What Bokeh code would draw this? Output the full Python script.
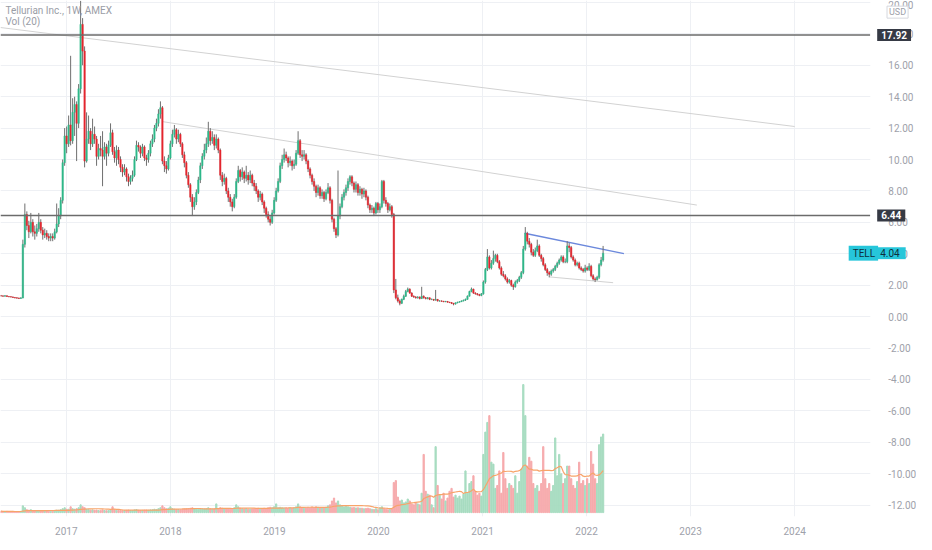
import numpy as np
import pandas as pd
from bokeh.plotting import figure
from bokeh.models import Range1d, FixedTicker, NumeralTickFormatter, Label, ColumnDataSource, BoxAnnotation
from bokeh.embed import file_html
from bokeh.resources import INLINE

# ---------------- data (weekly candles, TELL, AMEX) ----------------
start_date = "2016-05-16"
first_open = 1.33

close = [
    1.32, 1.30, 1.33, 1.28, 1.27, 1.25, 1.22, 1.20, 1.18, 1.16, 1.19,
    4.6, 6.5, 5.8, 5.4, 6.0, 5.4, 5.3, 5.6, 6.0, 5.5,
    5.2, 5.3, 5.1, 5.0, 5.1, 5.0, 5.4, 5.9, 6.4, 7.4,
    9.8, 11.5, 11.0, 12.2, 11.2, 13.0, 13.5, 12.3, 14.5, 18.6,
    16.9, 9.9, 11.3, 11.8, 11.0, 11.6, 11.3, 10.2, 10.7, 10.6,
    10.2, 10.8, 10.4, 10.9, 11.7, 10.5, 10.1, 10.6, 10.0, 9.5,
    9.2, 9.4, 8.9, 8.6, 8.8, 9.0, 10.0, 10.9, 10.8, 10.4,
    10.8, 10.1, 10.0, 10.4, 11.0, 11.3, 12.0, 12.3, 12.9, 13.3,
    9.9, 9.6, 9.4, 10.1, 11.0, 11.6, 11.9, 11.3, 11.6, 11.0,
    10.3, 9.8, 9.0, 8.4, 7.6, 7.0, 7.3, 7.9, 8.7, 9.6,
    10.2, 10.6, 11.0, 11.8, 11.2, 11.4, 10.9, 11.3, 10.6, 9.0,
    8.6, 8.8, 8.0, 7.6, 7.3, 7.0, 7.6, 8.6, 9.3, 8.9,
    9.2, 8.8, 9.0, 8.7, 9.0, 8.5, 8.3, 8.0, 7.6, 7.8,
    7.3, 6.9, 6.5, 6.2, 6.0, 6.6, 7.4, 8.0, 8.6, 9.6,
    10.0, 10.3, 10.1, 9.8, 9.9, 9.6, 9.7, 10.4, 11.2, 10.3,
    10.2, 10.3, 9.9, 9.4, 9.0, 8.6, 8.3, 7.9, 8.2, 7.7,
    7.9, 7.5, 7.9, 8.2, 7.4, 6.2, 5.6, 5.2, 6.4, 7.0,
    7.6, 7.9, 8.2, 8.6, 8.9, 8.5, 8.1, 8.4, 7.9, 8.1,
    7.8, 8.0, 7.6, 7.1, 6.8, 6.9, 6.6, 7.2, 6.8, 7.0,
    8.6, 7.4, 7.2, 6.8, 7.0, 6.5, 1.7, 1.2, 1.0, 0.85,
    1.1, 1.3, 1.6, 1.75, 1.5, 1.3, 1.25, 1.2, 1.25, 1.15,
    1.3, 1.2, 1.15, 1.2, 1.1, 1.1, 1.05, 1.1, 1.0, 1.0,
    0.98, 0.95, 0.97, 0.92, 0.90, 0.85, 0.80, 0.88, 0.92, 0.95,
    1.0, 1.05, 1.1, 1.3, 1.6, 1.75, 1.5, 1.45, 1.4, 1.35,
    1.45, 2.2, 3.0, 3.8, 3.1, 3.4, 3.7, 3.9, 3.5, 3.1,
    2.7, 2.6, 2.4, 2.2, 2.3, 2.0, 1.9, 2.2, 2.3, 2.5,
    2.8, 4.3, 5.3, 4.8, 4.6, 4.1, 3.9, 4.2, 4.5, 3.9,
    3.7, 3.3, 3.0, 2.8, 2.7, 2.9, 3.0, 3.2, 3.4, 3.6,
    3.8, 3.5, 3.5, 4.5, 4.4, 3.8, 3.6, 3.3, 3.4, 3.1,
    3.0, 2.9, 3.1, 3.0, 3.2, 2.6, 2.4, 2.35, 2.5, 3.3,
    3.6, 4.04,
]

high = [
    1.38, 1.36, 1.37, 1.35, 1.31, 1.30, 1.28, 1.25, 1.23, 1.21, 1.24,
    4.9, 7.2, 6.7, 6.1, 6.6, 6.2, 5.8, 5.9, 6.6, 6.2,
    5.7, 5.6, 5.5, 5.3, 5.3, 5.3, 5.6, 7.2, 6.9, 7.6,
    10.0, 12.0, 12.1, 12.8, 16.6, 13.9, 14.0, 13.7, 14.8, 20.1,
    19.0, 17.2, 13.0, 12.8, 12.0, 12.6, 12.1, 11.5, 11.0, 11.5,
    11.8, 11.1, 11.0, 11.2, 12.3, 11.9, 10.8, 10.9, 10.8, 10.2,
    9.7, 9.7, 9.5, 9.1, 9.0, 9.3, 10.2, 11.2, 11.1, 10.9,
    11.0, 10.9, 10.3, 10.6, 11.2, 11.6, 12.2, 12.6, 13.2, 13.7,
    13.4, 10.2, 9.9, 10.3, 11.2, 11.9, 12.2, 12.0, 11.9, 11.7,
    11.1, 10.5, 9.9, 9.2, 8.5, 7.8, 7.6, 8.1, 8.9, 9.8,
    10.4, 11.0, 11.4, 12.4, 12.0, 11.8, 11.6, 11.6, 11.4, 10.7,
    9.2, 9.1, 8.9, 8.2, 7.8, 7.5, 7.8, 8.8, 9.6, 9.4,
    9.5, 9.3, 9.6, 9.2, 9.3, 9.1, 8.7, 8.5, 8.1, 8.0,
    7.9, 7.4, 7.0, 6.7, 6.4, 6.8, 7.6, 8.2, 8.8, 9.8,
    10.3, 10.7, 10.5, 10.2, 10.2, 10.0, 10.0, 10.6, 11.8, 11.3,
    10.6, 10.6, 10.4, 10.0, 9.5, 9.1, 8.8, 8.4, 8.4, 8.3,
    8.1, 8.0, 8.1, 8.5, 8.3, 7.5, 6.3, 5.7, 9.3, 7.2,
    7.8, 8.1, 8.4, 8.8, 9.0, 9.0, 8.6, 8.6, 8.5, 8.3,
    8.2, 8.2, 8.1, 7.7, 7.2, 7.1, 7.0, 7.3, 7.3, 7.2,
    8.7, 8.7, 7.6, 7.3, 7.2, 7.1, 6.6, 2.4, 1.4, 1.1,
    1.15, 1.4, 1.7, 1.85, 1.8, 1.55, 1.35, 1.3, 1.3, 1.28,
    1.9, 1.35, 1.25, 1.25, 1.22, 1.15, 1.12, 1.7, 1.12, 1.05,
    1.03, 1.0, 1.0, 0.99, 0.94, 0.92, 0.87, 0.9, 0.95, 0.98,
    1.03, 1.08, 1.15, 1.35, 1.65, 1.85, 1.78, 1.55, 1.5, 1.45,
    1.5, 2.3, 3.1, 4.3, 3.9, 3.6, 4.2, 4.0, 4.0, 3.6,
    3.2, 2.9, 2.7, 2.5, 2.4, 2.35, 2.1, 2.3, 2.4, 2.6,
    2.9, 4.5, 5.7, 5.4, 5.0, 4.7, 4.3, 4.4, 4.9, 4.6,
    4.0, 3.8, 3.4, 3.1, 2.9, 3.0, 3.1, 3.3, 3.5, 3.7,
    3.9, 3.9, 3.7, 4.8, 4.7, 4.5, 3.9, 3.7, 3.5, 3.5,
    3.2, 3.1, 3.3, 3.2, 3.4, 3.3, 2.7, 2.5, 2.6, 3.4,
    3.8, 4.5,
]

low = [
    1.28, 1.27, 1.28, 1.25, 1.23, 1.22, 1.19, 1.16, 1.14, 1.12, 1.13,
    1.17, 4.4, 5.5, 5.0, 5.3, 5.1, 4.9, 5.1, 5.4, 5.3,
    4.9, 5.0, 4.9, 4.8, 4.8, 4.8, 4.9, 5.3, 5.7, 6.2,
    7.2, 9.6, 10.4, 10.8, 10.9, 11.0, 11.5, 9.9, 12.0, 14.2,
    16.0, 9.5, 9.8, 11.0, 10.6, 10.8, 11.0, 9.6, 10.0, 10.2,
    8.3, 10.0, 9.6, 10.2, 10.8, 10.3, 9.8, 9.6, 9.7, 9.2,
    8.9, 9.0, 8.6, 8.3, 8.4, 8.6, 8.9, 9.9, 10.5, 10.1,
    10.2, 9.9, 9.6, 9.8, 10.2, 10.8, 11.1, 11.8, 12.1, 12.6,
    9.7, 9.2, 9.1, 9.3, 10.0, 10.8, 11.4, 11.0, 11.1, 10.8,
    10.1, 9.5, 8.8, 8.2, 7.3, 6.4, 6.8, 7.1, 7.8, 8.5,
    9.4, 10.0, 10.4, 10.8, 10.9, 11.0, 10.6, 10.7, 10.4, 8.7,
    8.3, 8.4, 7.8, 7.3, 7.0, 6.7, 6.9, 7.5, 8.5, 8.6,
    8.7, 8.5, 8.6, 8.4, 8.5, 8.3, 8.0, 7.8, 7.3, 7.4,
    7.1, 6.6, 6.3, 6.0, 5.8, 5.9, 6.5, 7.3, 7.9, 8.5,
    9.4, 9.8, 9.9, 9.5, 9.6, 9.3, 9.4, 9.6, 10.3, 10.1,
    9.9, 10.0, 9.7, 9.2, 8.8, 8.4, 8.0, 7.6, 7.7, 7.5,
    7.5, 7.3, 7.4, 7.8, 7.2, 6.0, 5.4, 5.0, 5.1, 6.2,
    6.9, 7.4, 7.7, 8.0, 8.4, 8.3, 7.9, 7.9, 7.7, 7.7,
    7.5, 7.6, 7.4, 6.9, 6.6, 6.6, 6.4, 6.5, 6.6, 6.6,
    6.9, 7.2, 7.0, 6.6, 6.7, 6.3, 1.5, 1.1, 0.9, 0.72,
    0.8, 1.05, 1.25, 1.55, 1.45, 1.25, 1.2, 1.15, 1.15, 1.1,
    1.12, 1.15, 1.1, 1.1, 1.05, 1.05, 1.0, 1.02, 0.96, 0.95,
    0.94, 0.92, 0.92, 0.89, 0.86, 0.8, 0.72, 0.77, 0.85, 0.9,
    0.93, 0.97, 1.0, 1.08, 1.28, 1.55, 1.45, 1.4, 1.35, 1.3,
    1.3, 1.4, 2.1, 2.9, 3.0, 3.0, 3.3, 3.5, 3.4, 3.0,
    2.6, 2.5, 2.3, 2.1, 2.1, 1.9, 1.7, 1.85, 2.1, 2.2,
    2.4, 2.7, 4.2, 4.6, 4.4, 3.9, 3.8, 3.8, 4.1, 3.8,
    3.5, 3.2, 2.9, 2.6, 2.5, 2.6, 2.8, 2.9, 3.1, 3.3,
    3.5, 3.4, 3.4, 3.4, 4.1, 3.7, 3.5, 3.2, 3.2, 3.0,
    2.9, 2.8, 2.8, 2.9, 2.9, 2.5, 2.3, 2.2, 2.3, 2.4,
    3.2, 3.5,
]

volume = [
    1.5, 1.2, 1.0, 1.3, 1.1, 1.0, 1.2, 1.0, 0.9, 1.1, 1.3,
    7, 5, 3, 2.5, 3, 2, 2, 1.8, 2.2, 2,
    1.8, 1.5, 1.6, 1.5, 1.4, 1.5, 1.7, 2.5, 2.4, 3,
    4, 5, 3.5, 3.5, 6, 4, 3.5, 4, 5, 8,
    6, 5, 3.5, 3, 2.5, 2.8, 2.4, 2.6, 2.2, 2.0,
    2.8, 2.2, 2.0, 2.1, 3, 6, 3, 2.5, 2.2, 2.3,
    2.0, 2.1, 2.3, 2.6, 2.2, 2.0, 2.8, 3.2, 2.4, 2.2,
    2.3, 2.5, 2.6, 2.4, 2.8, 3.0, 3.5, 3.2, 4, 5,
    7, 5, 4, 4.5, 6, 4, 3.5, 3, 3.2, 3,
    3.5, 3.8, 4, 4.2, 4.5, 5, 4, 3.8, 3.5, 3.6,
    4, 3.8, 4, 5, 4, 3.6, 3.8, 9, 4, 5,
    4.5, 3.8, 4, 4.2, 3.6, 4, 5, 8, 6, 4.5,
    4, 3.8, 4.2, 3.6, 3.5, 3.8, 4, 4.2, 4.5, 3.6,
    4, 4.5, 4.2, 5, 5.5, 5, 6, 9, 5, 5.5,
    5, 4.8, 5, 4.6, 5, 4.5, 5, 6, 9, 6,
    5, 4.6, 5, 5.5, 5, 5.8, 5.2, 6, 5.5, 5,
    5.2, 5, 5.5, 7, 8, 12, 15, 10, 12, 8,
    7, 6, 6.5, 6, 5.5, 5, 5.2, 4.8, 5, 4.6,
    4.5, 4, 4.2, 4.6, 4, 3.5, 3.2, 4, 3, 5,
    6, 4, 3.5, 3, 3.2, 4, 31, 33, 16, 12,
    13, 10, 11, 14, 12, 9, 8, 10, 9, 8,
    20, 60, 22, 19, 18, 8, 5, 68, 28, 18,
    14, 20, 12, 15, 22, 25, 16, 18, 15, 17,
    14, 19, 43, 20, 30, 32, 38, 22, 18, 20,
    17, 60, 83, 93, 100, 52, 50, 25, 28, 43,
    20, 62, 35, 25, 30, 28, 25, 38, 20, 32,
    45, 132, 100, 48, 57, 53, 30, 25, 28, 22,
    30, 68, 35, 25, 30, 22, 28, 77, 38, 60,
    40, 30, 35, 48, 48, 35, 28, 25, 32, 52,
    30, 33, 28, 35, 30, 63, 50, 35, 30, 70,
    78, 81,
]

year_ticks = [2017, 2018, 2019, 2020, 2021, 2022, 2023, 2024]
price_ticks = list(range(-12, 21, 2))
hlines = [17.92, 6.44]
last_price = 4.04

# drawn trend lines: (year, price) endpoints
trend_gray_x = [[2016.367, 2024.00], [2017.926, 2023.06], [2021.64, 2022.255]]
trend_gray_y = [[18.40, 12.10], [12.41, 7.10], [2.53, 2.16]]
trend_blue_x = [2021.404, 2022.359]
trend_blue_y = [5.31, 4.01]

# ---------------- build ----------------
n = len(close)
assert len(high) == n and len(low) == n and len(volume) == n

dates = pd.date_range(start_date, periods=n, freq="7D")
ndays = np.where(dates.is_leap_year, 366.0, 365.0)
xs = dates.year.values + (dates.dayofyear.values - 1) / ndays

c = np.array(close, dtype=float)
o = np.concatenate([[first_open], c[:-1]])
up = c >= o

GREEN = "#2fb98a"
RED = "#e5262e"
VGREEN = "#a7dcc0"
VRED = "#f6aaac"
WICK = "#6f6f6f"

src = ColumnDataSource(dict(
    x=xs, top=np.maximum(o, c), bottom=np.minimum(o, c),
    high=np.array(high), low=np.array(low),
    color=[GREEN if u else RED for u in up],
    vcolor=[VGREEN if u else VRED for u in up],
    vol=np.array(volume, dtype=float),
    vma=pd.Series(volume, dtype=float).rolling(20, min_periods=1).mean().values,
))

# the frame spans the whole canvas width; the price scale sits inside it
PPY = 105.86                     # reference pixels per year
X0 = 2016.367
XAX = X0 + 885 / PPY             # position of the price scale
X1 = X0 + 932 / PPY
Y0, Y1 = -12.72, 20.12
PPU = 532 / (Y1 - Y0)            # reference pixels per price unit

def xr(px):
    return X0 + px / PPY

def yr(py):
    return Y1 - py / PPU

FW, FH = 916, 516
p = figure(frame_width=FW, frame_height=FH,
           x_range=Range1d(X0, X1), y_range=Range1d(Y0, Y1),
           y_axis_location="right", output_backend="svg", toolbar_location=None,
           min_border_left=0, min_border_top=0, min_border_right=0, min_border_bottom=0,
           background_fill_color="white", border_fill_color="white")
p.outline_line_color = None
p.extra_y_ranges = {"vol": Range1d(-4, 528)}

TXT = "#9ea1aa"
FONT = "Roboto"
p.yaxis.ticker = FixedTicker(ticks=price_ticks)
p.yaxis.formatter = NumeralTickFormatter(format="0.00")
p.yaxis.fixed_location = XAX
p.xaxis.ticker = FixedTicker(ticks=year_ticks)
for ax in (p.xaxis, p.yaxis):
    ax.axis_line_color = None
    ax.major_tick_line_color = None
    ax.minor_tick_line_color = None
    ax.major_label_text_color = TXT
    ax.major_label_text_font = FONT
    ax.major_label_text_font_size = "10px"
p.yaxis.major_label_standoff = 12
p.xaxis.major_label_standoff = 4

p.xgrid.grid_line_color = "#eef0f4"
p.ygrid.grid_line_color = "#eef0f4"

# blank price-scale strip (over the grid, under the scale labels)
p.add_layout(BoxAnnotation(left=XAX, fill_color="white", fill_alpha=1.0,
                           line_color=None, level="glyph"))

# volume
w = 0.62 / 52.18
p.vbar(x="x", width=w, top="vol", bottom=0, color="vcolor", source=src, y_range_name="vol")
p.line("x", "vma", source=src, y_range_name="vol", color="#f7a46a", line_width=1.2)

# trend lines
p.multi_line(trend_gray_x, trend_gray_y, line_color="#d2d2d2", line_width=1)
p.line(trend_blue_x, trend_blue_y, line_color="#6b88dc", line_width=1.5)

# candles
p.segment(x0="x", y0="high", x1="x", y1="low", source=src, line_color=WICK, line_width=1)
p.vbar(x="x", width=0.7 / 52.18, top="top", bottom="bottom", fill_color="color",
       line_color="color", line_width=0.5, source=src)

# horizontal levels
p.segment(x0=[X0] * len(hlines), y0=hlines, x1=[XAX] * len(hlines), y1=hlines,
          line_color="#6b6b6b", line_width=1.6)

# price labels on the scale
def box(text, x, y, bg, fg, bold=False, border=None, size="10px", pad=(4, 4, 2, 2)):
    lab = Label(x=x, y=y, text=text, text_align="left", text_baseline="middle",
                text_color=fg, text_font=FONT, text_font_size=size,
                text_font_style="bold" if bold else "normal",
                background_fill_color=bg, border_line_color=border,
                padding=dict(left=pad[0], right=pad[1], top=pad[2], bottom=pad[3]))
    p.add_layout(lab)

for h in hlines:
    box(f"{h:.2f}", xr(892), h, "#363a45", "white", bold=True)
box("TELL", xr(863), last_price, "#26c6da", "#0e2f3d", pad=(4, 3, 2, 2))
box(f"{last_price:.2f}", xr(891), last_price, "#26c6da", "#0e2f3d", pad=(4, 6, 2, 2))
box("USD", xr(902), yr(12), "white", TXT, border="#d6d8de", size="9px", pad=(2, 2, 1, 1))

# legend texts
p.add_layout(Label(x=xr(5), y=yr(10), text="Tellurian Inc., 1W, AMEX",
                   text_baseline="middle", text_color="#9a9da6", text_font=FONT,
                   text_font_size="10px"))
p.add_layout(Label(x=xr(5), y=yr(22), text="Vol (20)",
                   text_baseline="middle", text_color="#9a9da6", text_font=FONT,
                   text_font_size="10px"))

open("out.html", "w").write(file_html(p, INLINE))
